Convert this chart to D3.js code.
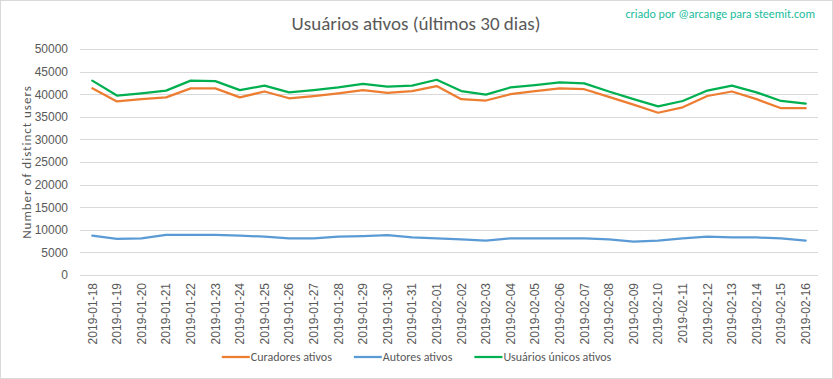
<!DOCTYPE html>
<html>
<head>
<meta charset="utf-8">
<script src="https://cdn.jsdelivr.net/npm/d3@7"></script>
<style>
  body { margin: 0; background: #fff; }
  svg { display: block; font-family: Carlito, "Liberation Sans Narrow", "Open Sans", sans-serif; }
</style>
</head>
<body>
<svg id="chart" width="833" height="379"></svg>
<script>
// dates on the x axis
const dates = ["2019-01-18","2019-01-19","2019-01-20","2019-01-21","2019-01-22","2019-01-23","2019-01-24","2019-01-25","2019-01-26","2019-01-27",
  "2019-01-28","2019-01-29","2019-01-30","2019-01-31","2019-02-01","2019-02-02","2019-02-03","2019-02-04","2019-02-05","2019-02-06",
  "2019-02-07","2019-02-08","2019-02-09","2019-02-10","2019-02-11","2019-02-12","2019-02-13","2019-02-14","2019-02-15","2019-02-16"];

const curadores = [41300,38400,38900,39300,41300,41300,39300,40600,39100,39600,
  40200,40900,40300,40700,41800,38900,38600,40000,40700,41300,
  41100,39400,37700,35900,37100,39600,40600,38900,36900,36900];

const autores = [8700,8000,8100,8900,8900,8900,8700,8500,8100,8100,
  8500,8600,8800,8300,8100,7900,7600,8100,8100,8100,
  8100,7900,7400,7600,8100,8500,8300,8300,8100,7600];

const unicos = [43000,39700,40200,40800,43000,42900,40900,41900,40400,40900,
  41500,42300,41700,41900,43200,40700,39900,41500,42000,42600,
  42400,40600,38900,37300,38500,40800,41900,40400,38500,37900];

const yTicks = [0,5000,10000,15000,20000,25000,30000,35000,40000,45000,50000];

const series = [
  {name: "Curadores ativos", values: curadores, color: "#ed7d31"},
  {name: "Autores ativos", values: autores, color: "#5b9bd5"},
  {name: "Usuários únicos ativos", values: unicos, color: "#00b050"}
];

const width = 833, height = 379;
const margin = {top: 49, right: 15, bottom: 104, left: 80};

const svg = d3.select("#chart");

// outer frame
svg.append("rect")
  .attr("x", 0.5).attr("y", 0.5)
  .attr("width", width - 1).attr("height", height - 1)
  .attr("fill", "#fff").attr("stroke", "#d9d9d9");

const x = d3.scaleBand()
  .domain(dates)
  .range([margin.left, width - margin.right]);

const y = d3.scaleLinear()
  .domain([0, 50000])
  .range([height - margin.bottom, margin.top]);

// grid lines
svg.append("g")
  .selectAll("line")
  .data(yTicks)
  .join("line")
    .attr("x1", margin.left)
    .attr("x2", width - margin.right)
    .attr("y1", d => Math.round(y(d)) + 0.5)
    .attr("y2", d => Math.round(y(d)) + 0.5)
    .attr("stroke", "#d9d9d9")
    .attr("stroke-width", 1);

// y axis labels
const yAxis = svg.append("g")
  .attr("transform", `translate(${margin.left - 12},0)`)
  .call(d3.axisLeft(y).tickValues(yTicks).tickFormat(d3.format("d")).tickSize(0).tickPadding(0));
yAxis.select(".domain").remove();
yAxis.selectAll("text")
  .attr("fill", "#595959")
  .style("font-size", "12px");

// x axis labels (rotated)
const xAxis = svg.append("g")
  .attr("transform", `translate(0,${height - margin.bottom})`)
  .call(d3.axisBottom(x).tickSize(0).tickPadding(0));
xAxis.select(".domain").remove();
xAxis.selectAll("text")
  .attr("fill", "#595959")
  .style("font-size", "12px")
  .attr("text-anchor", "end")
  .attr("dy", "0.35em")
  .attr("transform", "translate(0,8) rotate(-90)")
  .attr("x", 0).attr("y", 0);

// lines
const line = d3.line()
  .x((d, i) => x(dates[i]) + x.bandwidth() / 2)
  .y(d => y(d));

svg.append("g")
  .selectAll("path")
  .data(series)
  .join("path")
    .attr("d", d => line(d.values))
    .attr("fill", "none")
    .attr("stroke", d => d.color)
    .attr("stroke-width", 2.25)
    .attr("stroke-linejoin", "round")
    .attr("stroke-linecap", "round");

// title
svg.append("text")
  .attr("x", 416)
  .attr("y", 30)
  .attr("text-anchor", "middle")
  .attr("fill", "#595959")
  .style("font-size", "19px")
  .text("Usuários ativos (últimos 30 dias)");

// watermark
svg.append("text")
  .attr("x", 815)
  .attr("y", 18)
  .attr("text-anchor", "end")
  .attr("fill", "#1abc9c")
  .style("font-size", "12px")
  .text("criado por @arcange para steemit.com");

// y axis title
svg.append("text")
  .attr("transform", `translate(31,${(margin.top + height - margin.bottom) / 2}) rotate(-90)`)
  .attr("text-anchor", "middle")
  .attr("fill", "#595959")
  .style("font-size", "13px")
  .style("letter-spacing", "1px")
  .text("Number of distinct users");

// legend
const legend = svg.append("g").attr("transform", "translate(0,357)");
const lg = legend.selectAll("g")
  .data(series)
  .join("g");
lg.append("line")
  .attr("x1", 0).attr("x2", 28)
  .attr("y1", 0).attr("y2", 0)
  .attr("stroke", d => d.color)
  .attr("stroke-width", 2.25);
lg.append("text")
  .attr("x", 29)
  .attr("dy", "0.35em")
  .attr("fill", "#595959")
  .style("font-size", "12px")
  .text(d => d.name);

// center legend group based on measured widths
const offsets = [];
let total = 0;
lg.nodes().forEach(n => {
  const w = 29 + n.querySelector("text").getComputedTextLength();
  offsets.push(total);
  total += w + 22;
});
total -= 22;
const start = (width - total) / 2;
lg.attr("transform", (d, i) => `translate(${start + offsets[i]},0)`);
</script>
</body>
</html>
